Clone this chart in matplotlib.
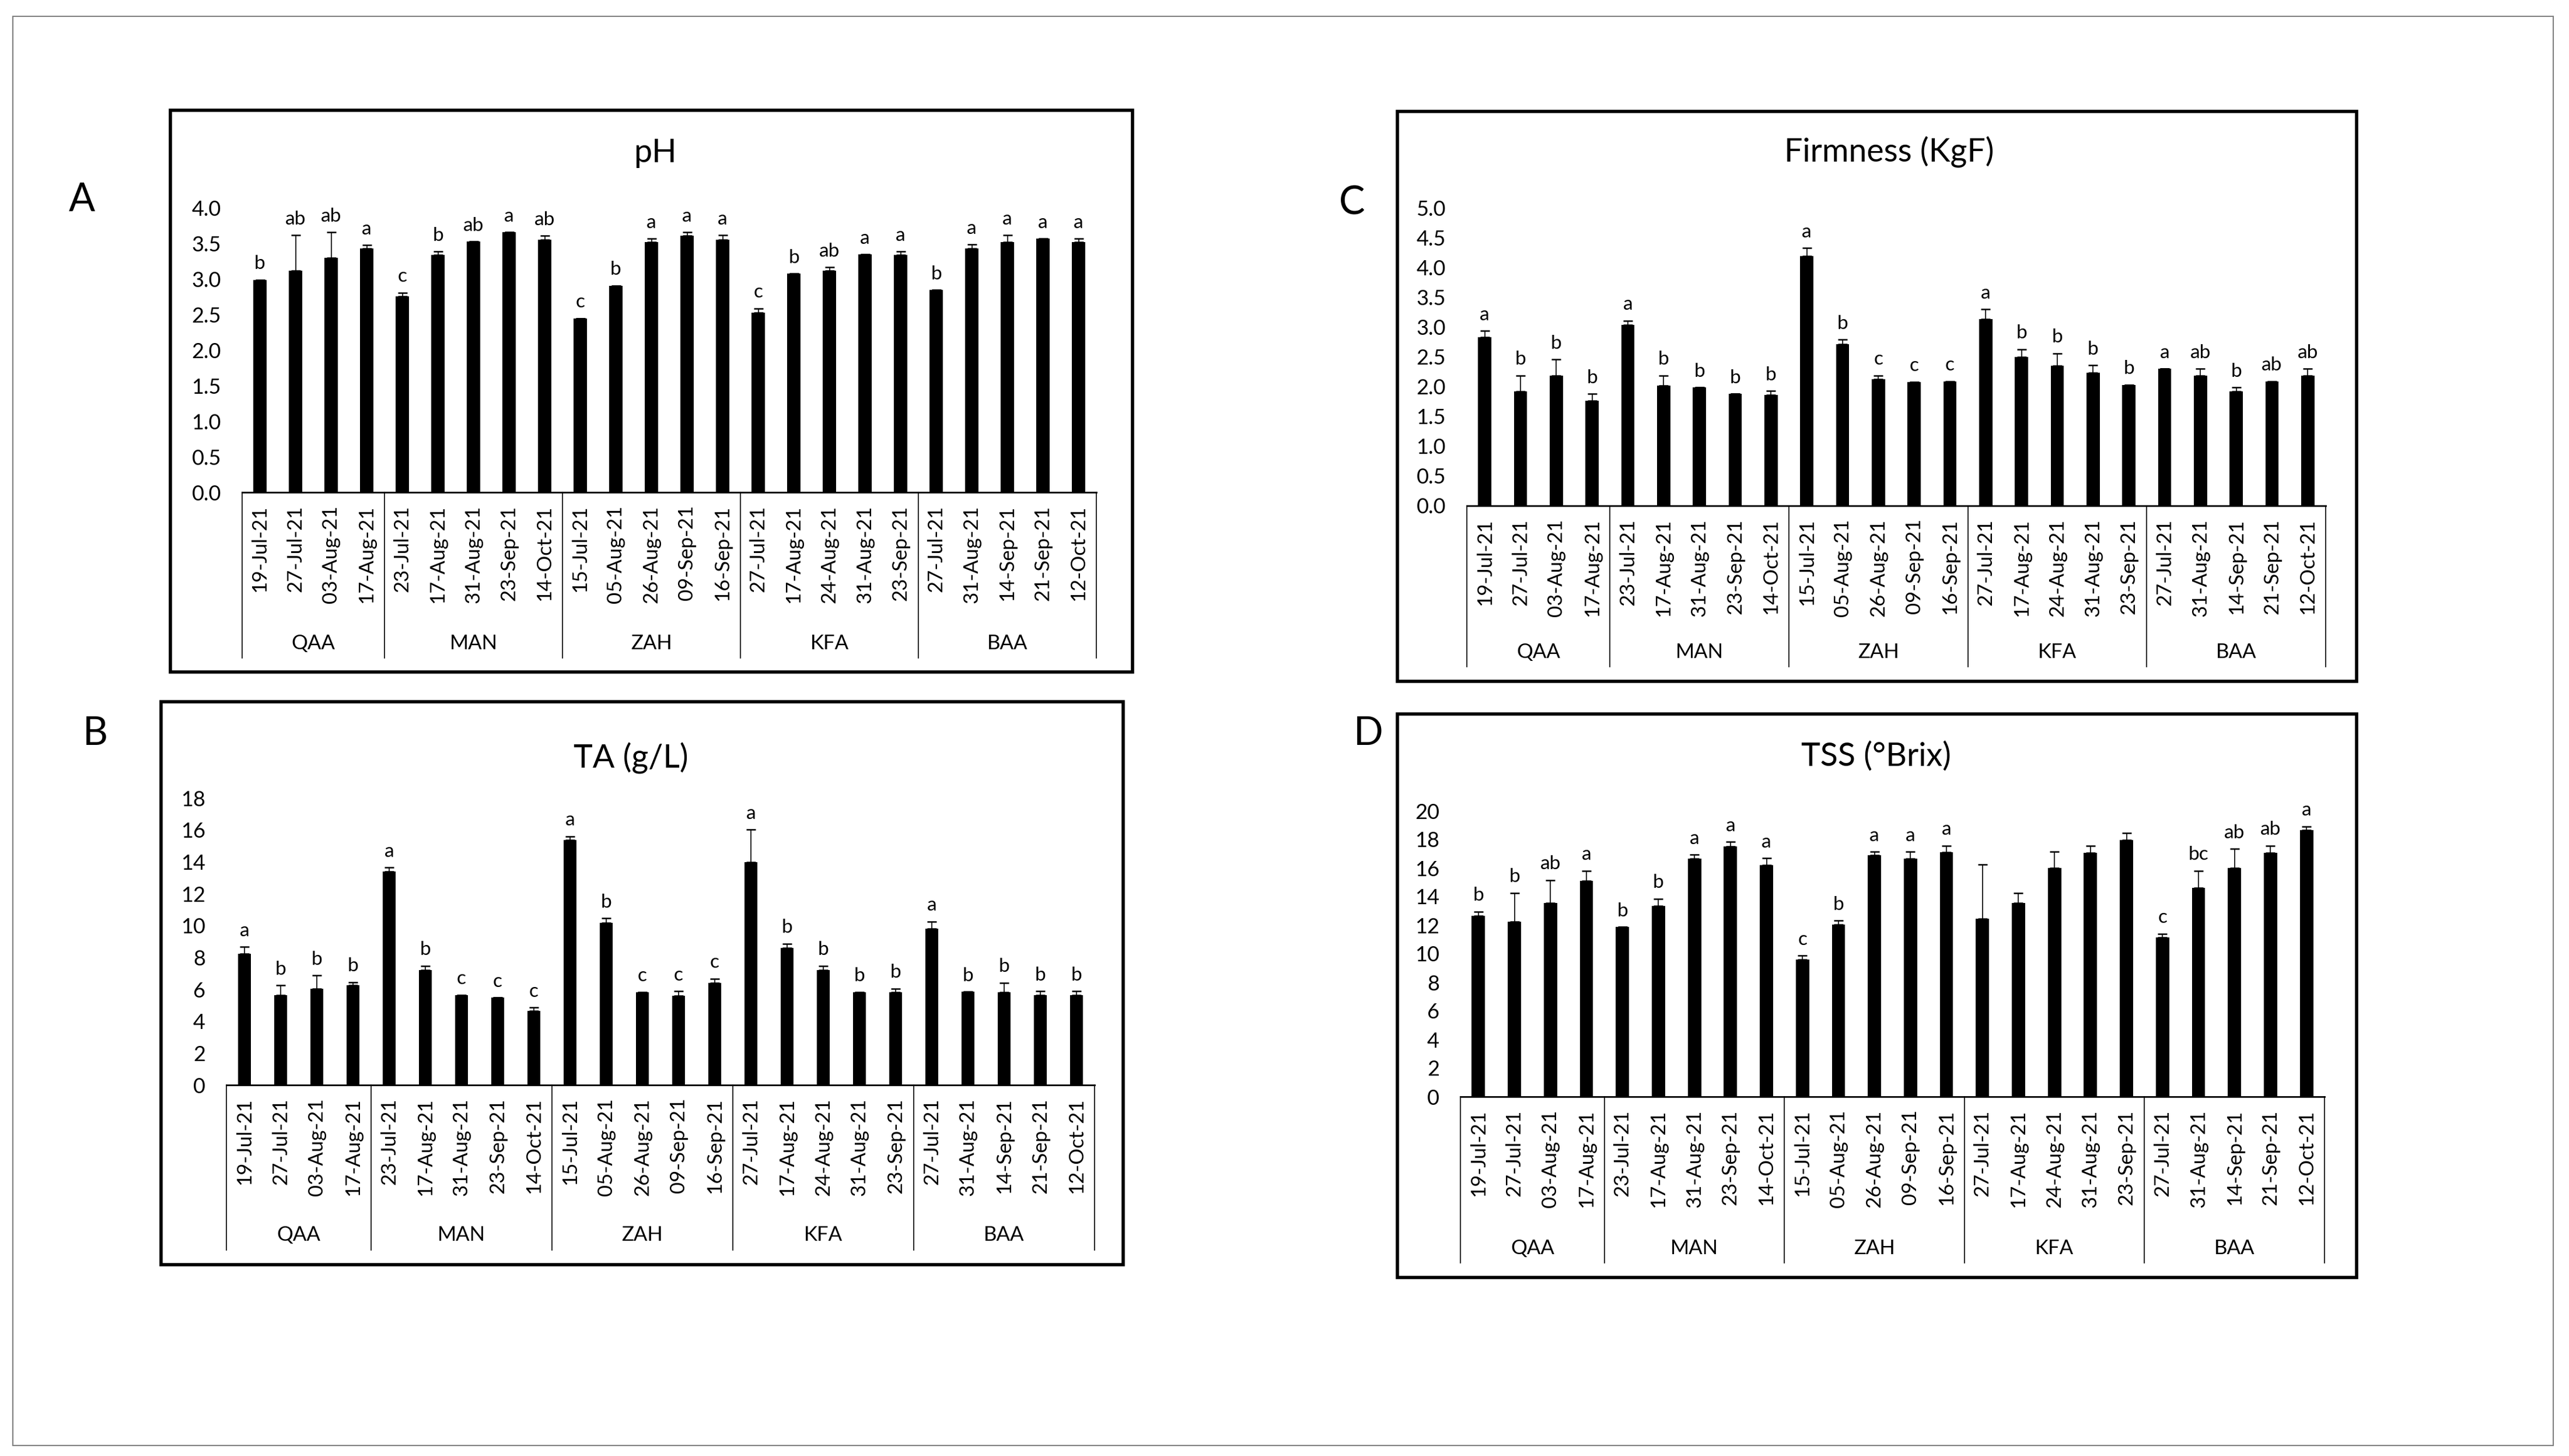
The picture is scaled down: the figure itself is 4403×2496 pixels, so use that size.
import numpy as np
import matplotlib
matplotlib.use('Agg')
import matplotlib.pyplot as plt
import matplotlib.transforms as mtransforms
from matplotlib.patches import Rectangle

plt.rcParams['font.family'] = ['Lato', 'DejaVu Sans']

# sites and sampling dates (category axis, two levels)
sites = ['QAA', 'MAN', 'ZAH', 'KFA', 'BAA']
site_dates = [
    ['19-Jul-21', '27-Jul-21', '03-Aug-21', '17-Aug-21'],
    ['23-Jul-21', '17-Aug-21', '31-Aug-21', '23-Sep-21', '14-Oct-21'],
    ['15-Jul-21', '05-Aug-21', '26-Aug-21', '09-Sep-21', '16-Sep-21'],
    ['27-Jul-21', '17-Aug-21', '24-Aug-21', '31-Aug-21', '23-Sep-21'],
    ['27-Jul-21', '31-Aug-21', '14-Sep-21', '21-Sep-21', '12-Oct-21'],
]

# A - pH
ph_mean = [2.99, 3.12, 3.30, 3.43,
           2.76, 3.34, 3.53, 3.66, 3.56,
           2.45, 2.91, 3.52, 3.61, 3.56,
           2.53, 3.08, 3.12, 3.35, 3.34,
           2.85, 3.43, 3.52, 3.57, 3.52]
ph_err = [0.0, 0.50, 0.36, 0.05,
          0.05, 0.05, 0.0, 0.0, 0.05,
          0.0, 0.0, 0.05, 0.05, 0.06,
          0.06, 0.0, 0.05, 0.0, 0.05,
          0.0, 0.06, 0.10, 0.0, 0.05]
ph_letters = ['b', 'ab', 'ab', 'a',
              'c', 'b', 'ab', 'a', 'ab',
              'c', 'b', 'a', 'a', 'a',
              'c', 'b', 'ab', 'a', 'a',
              'b', 'a', 'a', 'a', 'a']

# B - TA (g/L)
ta_mean = [8.22, 5.64, 6.03, 6.24,
           13.40, 7.22, 5.64, 5.47, 4.64,
           15.38, 10.18, 5.83, 5.60, 6.41,
           13.97, 8.61, 7.22, 5.83, 5.83,
           9.80, 5.85, 5.83, 5.64, 5.64]
ta_err = [0.44, 0.60, 0.83, 0.21,
          0.24, 0.26, 0.0, 0.0, 0.21,
          0.22, 0.28, 0.0, 0.28, 0.26,
          2.04, 0.25, 0.25, 0.0, 0.22,
          0.45, 0.0, 0.59, 0.24, 0.24]
ta_letters = ['a', 'b', 'b', 'b',
              'a', 'b', 'c', 'c', 'c',
              'a', 'b', 'c', 'c', 'c',
              'a', 'b', 'b', 'b', 'b',
              'a', 'b', 'b', 'b', 'b']

# C - Firmness (KgF)
firm_mean = [2.83, 1.92, 2.19, 1.76,
             3.04, 2.02, 1.99, 1.88, 1.86,
             4.20, 2.72, 2.13, 2.08, 2.09,
             3.14, 2.50, 2.35, 2.24, 2.03,
             2.30, 2.19, 1.92, 2.09, 2.19]
firm_err = [0.11, 0.27, 0.27, 0.12,
            0.07, 0.17, 0.0, 0.0, 0.07,
            0.13, 0.07, 0.06, 0.0, 0.0,
            0.16, 0.13, 0.21, 0.12, 0.0,
            0.0, 0.11, 0.07, 0.0, 0.11]
firm_letters = ['a', 'b', 'b', 'b',
                'a', 'b', 'b', 'b', 'b',
                'a', 'b', 'c', 'c', 'c',
                'a', 'b', 'b', 'b', 'b',
                'a', 'ab', 'b', 'ab', 'ab']

# D - TSS (Brix)
tss_mean = [12.67, 12.25, 13.57, 15.11,
            11.86, 13.36, 16.65, 17.52, 16.20,
            9.59, 12.04, 16.89, 16.65, 17.10,
            12.45, 13.54, 15.98, 17.07, 17.97,
            11.13, 14.62, 15.98, 17.07, 18.64]
tss_err = [0.28, 2.01, 1.58, 0.69,
           0.0, 0.49, 0.27, 0.31, 0.49,
           0.27, 0.27, 0.25, 0.49, 0.46,
           3.80, 0.72, 1.16, 0.49, 0.49,
           0.27, 1.18, 1.36, 0.49, 0.27]
tss_letters = ['b', 'b', 'ab', 'a',
               'b', 'b', 'a', 'a', 'a',
               'c', 'b', 'a', 'a', 'a',
               '', '', '', '', '',
               'c', 'bc', 'ab', 'ab', 'a']

W, H = 4403, 2496
fig = plt.figure(figsize=(W / 100, H / 100), dpi=100)


def fx(px):
    return px / W


def fy(py):
    return 1 - py / H


dates = [d for grp in site_dates for d in grp]
x = np.arange(len(dates))
bounds = np.concatenate([[0], np.cumsum([len(g) for g in site_dates])]) - 0.5


def panel(mean, err, letters, yticks, fmt, ax_px, frame_px, line_end, lab_y, title, title_xy, tag, tag_xy):
    x0, x1, ytop, yzero = ax_px
    ax = fig.add_axes([fx(x0), fy(yzero), (x1 - x0) / W, (yzero - ytop) / H])
    ax.bar(x, mean, width=0.37, color='black',
           yerr=[np.zeros(len(err)), err], capsize=6,
           error_kw=dict(elinewidth=1.2, capthick=1.8, ecolor='black'))
    ax.set_xlim(-0.5, len(dates) - 0.5)
    ax.set_ylim(yticks[0], yticks[-1])
    ax.set_yticks(yticks)
    ax.set_yticklabels([fmt.format(t) for t in yticks], fontsize=26)
    ax.set_xticks(x)
    ax.set_xticklabels(dates, rotation=90, fontsize=25)
    ax.tick_params(axis='y', length=0, pad=26)
    ax.tick_params(axis='x', length=0, pad=16)
    for s in ['left', 'right', 'top']:
        ax.spines[s].set_visible(False)
    ax.spines['bottom'].set_linewidth(2)
    for i in range(len(mean)):
        if letters[i]:
            ax.annotate(letters[i], (x[i], mean[i] + err[i]), xytext=(0, 9),
                        textcoords='offset points', ha='center', va='bottom', fontsize=24)
    # second level of the category axis
    trans = mtransforms.blended_transform_factory(ax.transData, fig.transFigure)
    for b in bounds:
        ax.plot([b, b], [fy(yzero), fy(line_end)], transform=trans, color='black',
                lw=1.2, clip_on=False)
    for k, s in enumerate(sites):
        ax.text((bounds[k] + bounds[k + 1]) / 2, fy(lab_y), s, transform=trans,
                ha='center', va='center', fontsize=25)
    fl, ft, fr, fb = frame_px
    fig.add_artist(Rectangle((fx(fl), fy(fb)), (fr - fl) / W, (fb - ft) / H,
                             transform=fig.transFigure, fill=False, lw=4, edgecolor='black'))
    fig.text(fx(title_xy[0]), fy(title_xy[1]), title, ha='center', va='center', fontsize=40)
    fig.text(fx(tag_xy[0]), fy(tag_xy[1]), tag, ha='center', va='center', fontsize=48)


panel(ph_mean, ph_err, ph_letters, np.arange(0, 4.01, 0.5), '{:.1f}',
      (415, 1879, 357, 844), (292, 189, 1941, 1152), 1128, 1103,
      'pH', (1123, 262), 'A', (140, 343))
panel(ta_mean, ta_err, ta_letters, np.arange(0, 19, 2), '{:.0f}',
      (388, 1876, 1368, 1860), (276, 1203, 1925, 2168), 2143, 2117,
      'TA (g/L)', (1081, 1300), 'B', (163, 1258))
panel(firm_mean, firm_err, firm_letters, np.arange(0, 5.01, 0.5), '{:.1f}',
      (2514, 3986, 357, 867), (2395, 191, 4039, 1168), 1143, 1118,
      'Firmness (KgF)', (3238, 261), 'C', (2317, 348))
panel(tss_mean, tss_err, tss_letters, np.arange(0, 21, 2), '{:.0f}',
      (2503, 3984, 1390, 1880), (2395, 1224, 4039, 2190), 2165, 2140,
      'TSS (°Brix)', (3215, 1297), 'D', (2345, 1258))

# thin outer border
fig.add_artist(Rectangle((fx(22), fy(2478)), (4376 - 22) / W, (2478 - 28) / H,
                         transform=fig.transFigure, fill=False, lw=1.5, edgecolor='#808080'))

fig.savefig('out.png', dpi=100)
